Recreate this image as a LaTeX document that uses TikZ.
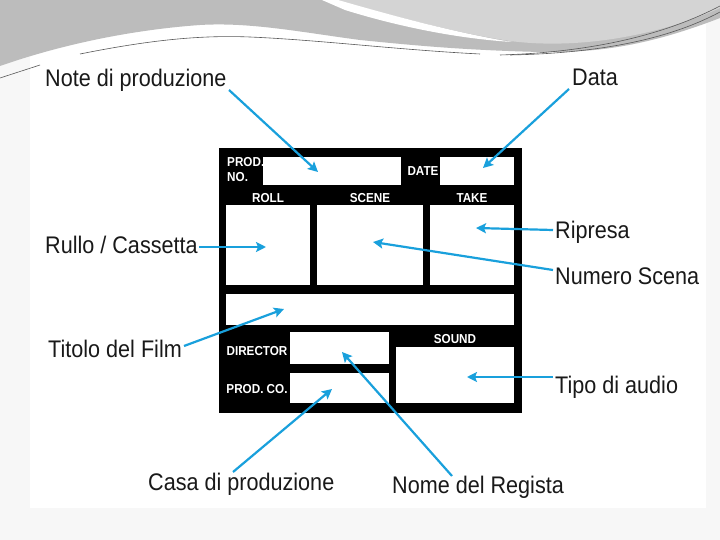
\documentclass[tikz,border=0pt]{standalone}
\usepackage{fontspec}
\usetikzlibrary{arrows.meta}
\newfontfamily\labfont[FakeStretch=0.9]{Liberation Sans}
\newfontfamily\boxfont[FakeStretch=0.9]{Liberation Sans Bold}
\definecolor{arrowblue}{RGB}{25,160,220}
\definecolor{swmid}{RGB}{188,188,188}
\definecolor{swlight}{RGB}{212,212,212}
\definecolor{pagegray}{RGB}{247,247,247}
\tikzset{
  lab/.style={font=\labfont\fontsize{24}{26}\selectfont, inner sep=0pt, anchor=base west, text=black!90},
  boxlab/.style={font=\boxfont\fontsize{13}{13}\selectfont, text=white, inner sep=0pt},
  field/.style={fill=white, draw=none},
  pointer/.style={draw=arrowblue, line width=2.2pt, -{Stealth[length=10pt,width=10pt,inset=2pt]}},
  thinline/.style={draw=gray!70!black, line width=0.6pt}
}
\begin{document}
\begin{tikzpicture}[x=1pt,y=-1pt]
\useasboundingbox (0,0) rectangle (720,540);
% page
\fill[pagegray] (0,0) rectangle (720,540);
\fill[white] (30,0) rectangle (706,508);
% top decoration
\fill[swmid] (0,0) -- (720,0) -- (720,18) .. controls (650,45) and (600,53) .. (540,52)
  .. controls (460,50) and (410,45) .. (360,40) .. controls (300,32) and (250,22) .. (200,25)
  .. controls (130,30) and (60,45) .. (0,66) -- cycle;
\fill[swlight] (335,0) .. controls (380,12) and (450,32) .. (510,41)
  .. controls (580,50) and (660,35) .. (720,8) -- (720,0) -- cycle;
\fill[white] (322,0) -- (338,0) .. controls (380,12) and (450,32) .. (512,42)
  .. controls (450,38) and (390,24) .. (345,10) -- cycle;
\draw[thinline] (0,78) -- (40,65);
\draw[thinline] (80,54) .. controls (150,40) and (200,35) .. (250,37) .. controls (320,40) and (400,50) .. (480,54);
\draw[thinline] (500,55) .. controls (600,52) and (670,32) .. (720,6);
\draw[thinline] (510,55) .. controls (610,53) and (675,36) .. (720,12);
% clapper board
\fill[black] (219,148) rectangle (522,413);
\node[field, minimum width=138pt, minimum height=28pt, inner sep=0pt] (prodno) at (332,171) {};
\node[field, minimum width=74pt, minimum height=28pt, inner sep=0pt] (date) at (477,171) {};
\node[field, minimum width=84pt, minimum height=80pt, inner sep=0pt] (roll) at (268,245) {};
\node[field, minimum width=106pt, minimum height=80pt, inner sep=0pt] (scene) at (370,245) {};
\node[field, minimum width=84pt, minimum height=80pt, inner sep=0pt] (take) at (472,245) {};
\node[field, minimum width=288pt, minimum height=31pt, inner sep=0pt] (title) at (370,309.5) {};
\node[field, minimum width=99pt, minimum height=32pt, inner sep=0pt] (director) at (339.5,348) {};
\node[field, minimum width=99pt, minimum height=30pt, inner sep=0pt] (prodco) at (339.5,388) {};
\node[field, minimum width=118pt, minimum height=56pt, inner sep=0pt] (sound) at (455,375) {};
% box labels
\node[boxlab, anchor=base west] (tprod) at (227,167) {PROD.};
\node[boxlab, anchor=base west] (tno) at (227,182) {NO.};
\node[boxlab, anchor=base] (tdate) at (423,176) {DATE};
\node[boxlab, anchor=base] (troll) at (268,203) {ROLL};
\node[boxlab, anchor=base] (tscene) at (370,203) {SCENE};
\node[boxlab, anchor=base] (ttake) at (472,203) {TAKE};
\node[boxlab, anchor=base] (tdirector) at (257,355) {DIRECTOR};
\node[boxlab, anchor=base] (tprodco) at (257,393) {PROD. CO.};
\node[boxlab, anchor=base] (tsound) at (455,343) {SOUND};
% outside labels
\node[lab] (note) at (45,87) {Note di produzione};
\node[lab] (data) at (572,86) {Data};
\node[lab] (rullo) at (45,254) {Rullo / Cassetta};
\node[lab] (ripresa) at (555,239) {Ripresa};
\node[lab] (numero) at (555,284) {Numero Scena};
\node[lab] (titolo) at (48,357) {Titolo del Film};
\node[lab] (tipo) at (555,393) {Tipo di audio};
\node[lab] (casa) at (148,490) {Casa di produzione};
\node[lab] (nome) at (392,493) {Nome del Regista};
% arrow ends
\coordinate (s-note) at (229,90);
\coordinate (e-note) at (318,172);
\coordinate (s-data) at (569,89);
\coordinate (e-data) at (483,168);
\coordinate (s-rullo) at (199,247);
\coordinate (e-rullo) at (266,247);
\coordinate (s-ripresa) at (553,230);
\coordinate (e-ripresa) at (476,228);
\coordinate (s-numero) at (553,270);
\coordinate (e-numero) at (373,242);
\coordinate (s-titolo) at (184,346);
\coordinate (e-titolo) at (284,309);
\coordinate (s-tipo) at (553,377);
\coordinate (e-tipo) at (467,377);
\coordinate (s-casa) at (233,472);
\coordinate (e-casa) at (332,389);
\coordinate (s-nome) at (452,476);
\coordinate (e-nome) at (342,352);
% arrows
\draw[pointer] (s-note) -- (e-note);
\draw[pointer] (s-data) -- (e-data);
\draw[pointer] (s-rullo) -- (e-rullo);
\draw[pointer] (s-ripresa) -- (e-ripresa);
\draw[pointer] (s-numero) -- (e-numero);
\draw[pointer] (s-titolo) -- (e-titolo);
\draw[pointer] (s-tipo) -- (e-tipo);
\draw[pointer] (s-casa) -- (e-casa);
\draw[pointer] (s-nome) -- (e-nome);
\end{tikzpicture}
\end{document}
